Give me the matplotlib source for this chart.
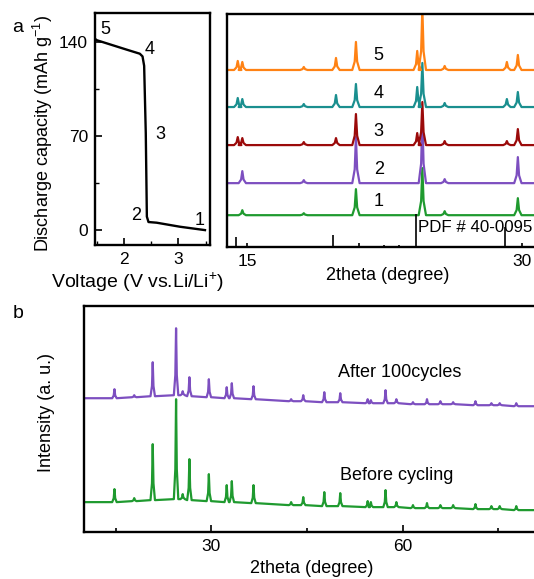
import numpy as np
import matplotlib.pyplot as plt

plt.rcParams['font.family'] = ['Liberation Sans', 'DejaVu Sans']
plt.rcParams['font.size'] = 11
plt.rcParams['mathtext.default'] = 'regular'

# ---------------- discharge curve ----------------
volt = [3.49, 3.03, 2.60, 2.45, 2.42, 2.40, 2.37, 2.34, 2.29, 2.05, 1.50, 1.466]
cap = [0, 2.5, 5.5, 6, 10, 72, 122, 129, 131, 134, 141, 142]
state_labels = ['1', '2', '3', '4', '5']
state_v = [3.39, 2.23, 2.66, 2.48, 1.65]
state_c = [7.5, 11, 71, 134, 149]

# ---------------- ex-situ XRD (panel a) ----------------
a_pos = [14.49, 14.74, 18.1, 19.86, 20.95, 24.3, 24.58, 25.8, 29.2, 29.8]
a_heights = {
    '1': [0, 5, 2, 0, 26, 0, 47, 4, 0, 17],
    '2': [0, 12, 3, 0, 46, 0, 65, 4, 0, 26],
    '3': [8, 7, 3, 7, 31, 12, 43, 4, 4, 16],
    '4': [9, 8, 3, 12, 23, 20, 44, 4, 8, 15],
    '5': [9, 8, 3, 12, 28, 19, 62, 4, 8, 15],
}
a_offset = [0, 32, 70, 108, 145]
a_colors = ['#1f9a2f', '#7d4fc0', '#9b0a0a', '#1a8f8f', '#ff8214']

# PDF # 40-0095 reference lines
pdf_pos = [14.38, 19.7, 21.1, 22.5, 23.3, 24.22, 29.1]
pdf_int = [10, 12, 4, 2, 2, 33, 20]

# ---------------- XRD before/after cycling (panel b) ----------------
b_pos = [14.8, 17.9, 20.8, 24.46, 25.5, 26.55, 29.6, 32.4, 33.2, 36.6, 42.5, 44.4,
         47.7, 50.2, 54.5, 55.0, 57.3, 59.0, 61.6, 63.8, 65.9, 67.9, 71.4, 73.9,
         75.2, 77.8]
b_before = [13, 3, 56, 100, 5, 41, 27, 17, 21, 18, 3, 8, 14, 13, 6, 5, 17, 5, 3,
            5, 3, 3, 5, 3, 3, 4]
b_after = [9, 2, 34, 67, 4, 19, 18, 11, 15, 13, 2, 6, 10, 9, 4, 3, 13, 4, 2, 5, 3,
           2, 4, 2, 2, 3]
b_base = [0, 1, 2, 3, 3, 2, 1, 0, 0, -1, -3, -3, -4, -4, -5, -5, -5, -5, -6, -6,
          -6, -6, -7, -7, -7, -8]


def pattern(pos, heights, base, x0, x1, base0, base1, w):
    """Polyline through the peak feet and apexes of a diffraction pattern."""
    xs, ys = [x0], [base0]
    for p, h, b in zip(pos, heights, base):
        if h <= 0:
            continue
        xs += [p - w, p - w / 3, p, p + w / 3, p + w]
        ys += [b, b + 0.3 * h, b + h, b + 0.3 * h, b]
    xs.append(x1)
    ys.append(base1)
    return np.array(xs), np.array(ys)


fig = plt.figure(figsize=(5.34, 5.79), dpi=100)

# ---- a, left: discharge capacity vs voltage ----
ax1 = fig.add_axes([0.178, 0.577, 0.215, 0.4])
ax1.plot(volt, cap, color='black', lw=1.7)
for s, v, c in zip(state_labels, state_v, state_c):
    ax1.text(v, c, s, fontsize=13, ha='center', va='center')
ax1.set_xlim(1.466, 3.58)
ax1.set_ylim(-11, 161)
ax1.set_xticks([2, 3])
ax1.set_xticks([1.5, 2.5, 3.5], minor=True)
ax1.set_yticks([0, 70, 140])
ax1.set_yticks([35, 105], minor=True)
ax1.tick_params(direction='in', length=5, width=1.2, pad=5, labelsize=12.5)
ax1.tick_params(which='minor', direction='in', length=3, width=1)
ax1.set_ylabel('Discharge capacity (mAh g$^{-1}$)', fontsize=13)
ax1.yaxis.set_label_coords(-0.35, 0.48)
ax1.set_xlabel('Voltage (V vs.Li/Li$^{+}$)', fontsize=14)
ax1.xaxis.set_label_coords(0.37, -0.11)
for sp in ax1.spines.values():
    sp.set_linewidth(1.7)

# ---- a, right: XRD at states 1-5 ----
ax2 = fig.add_axes([0.425, 0.573, 0.603, 0.403])
x_lo, x_hi = 13.9, 31.5
for i, (key, off, col) in enumerate(zip(state_labels, a_offset, a_colors)):
    hts = a_heights[key]
    xs, ys = pattern(a_pos, hts, [0] * len(a_pos), x_lo, x_hi, 0, 0, 0.2)
    ax2.plot(xs, ys + off, color=col, lw=1.6)
    ax2.text(22.2, off + 14, key, fontsize=13, ha='center', va='center')
ax2.vlines(pdf_pos, -32, [-32 + h for h in pdf_int], color='black', lw=1.2)
ax2.text(24.35, -12, 'PDF # 40-0095', fontsize=12.2, ha='left', va='center')
ax2.set_xlim(x_lo, x_hi)
ax2.set_ylim(-32, 201)
ax2.set_yticks([])
ax2.set_xticks([15, 30])
ax2.tick_params(direction='in', length=3, width=1.2, pad=5, labelsize=12.5)
ax2.set_xlabel('2theta (degree)', fontsize=13)
ax2.xaxis.set_label_coords(0.5, -0.085)
for sp in ax2.spines.values():
    sp.set_linewidth(1.7)

# ---- b: before and after 100 cycles ----
ax3 = fig.add_axes([0.157, 0.081, 0.86, 0.39])
xb_lo, xb_hi = 10, 82
xs, ys = pattern(b_pos, b_before, b_base, xb_lo, xb_hi, 0, -8, 0.35)
ax3.plot(xs, ys + 30, color='#1f9a2f', lw=1.6)
xs, ys = pattern(b_pos, b_after, b_base, xb_lo, xb_hi, 0, -8, 0.35)
ax3.plot(xs, ys + 134, color='#7d4fc0', lw=1.6)
ax3.text(49.8, 160, 'After 100cycles', fontsize=13, ha='left', va='center')
ax3.text(50.1, 57, 'Before cycling', fontsize=13, ha='left', va='center')
ax3.set_xlim(xb_lo, xb_hi)
ax3.set_ylim(0, 226)
ax3.set_yticks([])
ax3.set_xticks([30, 60])
ax3.set_xticks([15, 45, 75], minor=True)
ax3.tick_params(direction='in', length=5, width=1.2, pad=5, labelsize=12.5)
ax3.tick_params(which='minor', direction='in', length=3, width=1.2)
ax3.set_xlabel('2theta (degree)', fontsize=13)
ax3.xaxis.set_label_coords(0.497, -0.125)
ax3.set_ylabel('Intensity (a. u.)', fontsize=13)
ax3.yaxis.set_label_coords(-0.063, 0.53)
for sp in ax3.spines.values():
    sp.set_linewidth(1.7)

fig.text(18 / 534, 1 - 28 / 579, 'a', fontsize=14, ha='center', va='center')
fig.text(18 / 534, 1 - 313 / 579, 'b', fontsize=14, ha='center', va='center')

fig.savefig('out.png', dpi=100)
